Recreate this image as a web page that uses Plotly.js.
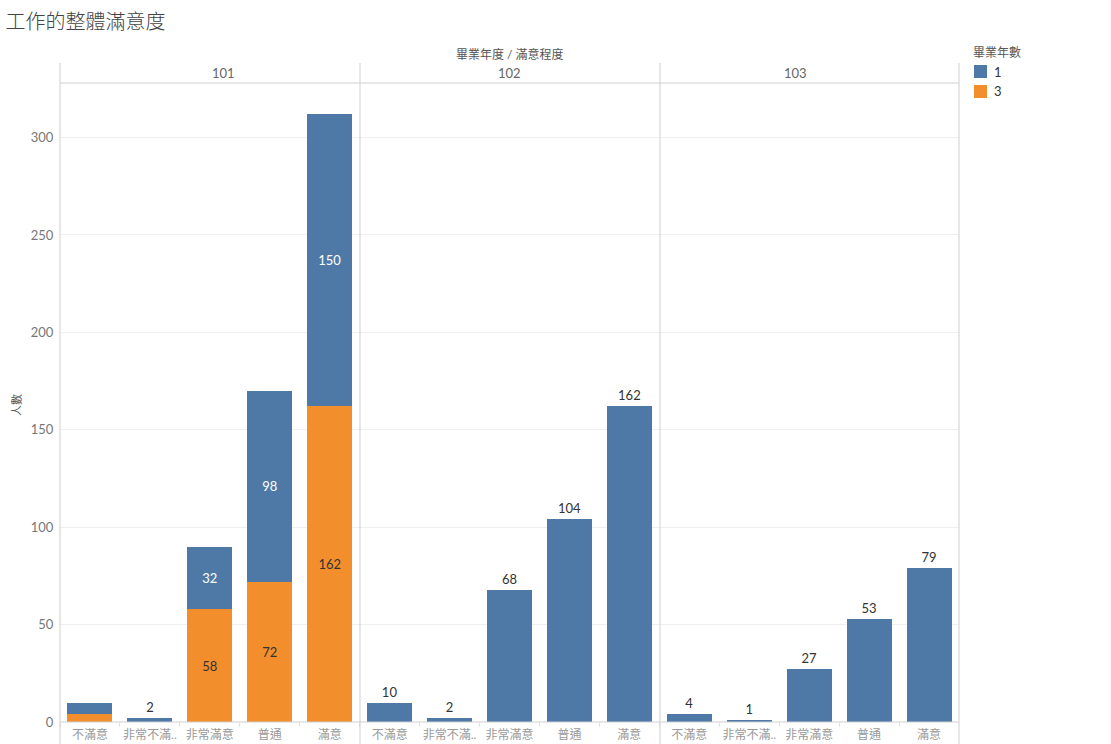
<!DOCTYPE html>
<html>
<head>
<meta charset="utf-8">
<script src="https://cdn.plot.ly/plotly-3.0.1.min.js"></script>
<style>
  body { margin: 0; background: #fff; }
  #chart { width: 1111px; height: 744px; }
</style>
</head>
<body>
<div id="chart"></div>
<script>
// satisfaction categories and how the axis shows them
const categories = ['不滿意', '非常不滿意', '非常滿意', '普通', '滿意'];
const tickLabels = ['不滿意', '非常不滿..', '非常滿意', '普通', '滿意'];
const years = ['101', '102', '103'];

// 畢業年數 = 1
const oneYear101 = [6, 2, 32, 98, 150];
const oneYear102 = [10, 2, 68, 104, 162];
const oneYear103 = [4, 1, 27, 53, 79];
// 畢業年數 = 3 (only 101 has it)
const threeYear101 = [4, 0, 58, 72, 162];

// legend entries
const legendNames = ['1', '3'];

const BLUE = '#4e79a7';
const ORANGE = '#f28e2b';
const FONT = "Lato, 'Noto Sans CJK TC', sans-serif";

const orange101 = {
  x: categories, y: threeYear101, type: 'bar', name: '3',
  xaxis: 'x', yaxis: 'y',
  marker: { color: ORANGE },
  text: ['', '', '58', '72', '162'],
  textposition: 'inside', insidetextanchor: 'middle',
  insidetextfont: { color: '#333', size: 13, family: FONT },
  hoverinfo: 'x+y'
};

const blue101 = {
  x: categories, y: oneYear101, type: 'bar', name: '1',
  xaxis: 'x', yaxis: 'y',
  marker: { color: BLUE },
  text: ['', '2', '32', '98', '150'],
  textposition: ['none', 'outside', 'inside', 'inside', 'inside'],
  insidetextanchor: 'middle',
  insidetextfont: { color: '#fff', size: 13, family: FONT },
  outsidetextfont: { color: '#333', size: 13, family: FONT },
  cliponaxis: false,
  hoverinfo: 'x+y'
};

function plainPanel(values, ax) {
  return {
    x: categories, y: values, type: 'bar', name: '1',
    xaxis: ax, yaxis: 'y',
    marker: { color: BLUE },
    text: values.map(String),
    textposition: 'outside',
    outsidetextfont: { color: '#333', size: 13, family: FONT },
    cliponaxis: false, hoverinfo: 'x+y'
  };
}

const data = [orange101, blue101, plainPanel(oneYear102, 'x2'), plainPanel(oneYear103, 'x3')];

// plot area is 60..959 px wide, 83..722 px tall
const plotW = 899, plotH = 639;
const px = x => (x - 60) / plotW;
const py = y => (722 - y) / plotH;

function xAxis(i) {
  return {
    domain: [i / 3, (i + 1) / 3],
    type: 'category',
    tickvals: categories, ticktext: tickLabels, tickangle: 0,
    tickfont: { size: 12, color: '#999', family: FONT },
    ticks: 'outside', tickson: 'boundaries', ticklen: 4, tickcolor: '#e2e2e2',
    ticklabelstandoff: 4,
    showgrid: false, showline: false, zeroline: false,
    fixedrange: true, anchor: 'y', automargin: false
  };
}

const shapes = [];
// panel separators, running down through the label row
[60, 360, 660, 959].forEach(x => {
  shapes.push({ type: 'line', xref: 'paper', yref: 'paper',
    x0: px(x), x1: px(x), y0: py(744), y1: py(63),
    line: { color: '#cfcfcf', width: 1 } });
});
// header strip bottom and the base line
shapes.push({ type: 'line', xref: 'paper', yref: 'paper', x0: 0, x1: 1, y0: 1, y1: 1,
  line: { color: '#cfcfcf', width: 1 } });
shapes.push({ type: 'line', xref: 'paper', yref: 'paper', x0: 0, x1: 1, y0: 0, y1: 0,
  line: { color: '#cfcfcf', width: 1 } });

const annotations = [
  { text: '畢業年度 / 滿意程度', xref: 'paper', yref: 'paper', x: 0.5, y: py(54),
    yanchor: 'middle', showarrow: false, font: { size: 12, color: '#555', family: FONT } },
  { text: '人數', xref: 'paper', yref: 'paper', x: px(17), y: py(405), textangle: -90,
    xanchor: 'center', yanchor: 'middle',
    showarrow: false, font: { size: 11, color: '#555', family: FONT } },
  { text: '畢業年數', xref: 'paper', yref: 'paper', x: px(971), y: py(53),
    xanchor: 'left', yanchor: 'middle',
    showarrow: false, font: { size: 12, color: '#555', family: FONT } }
];
years.forEach((yr, i) => {
  annotations.push({ text: yr, xref: 'paper', yref: 'paper', x: (i + 0.5) / 3, y: py(73),
    yanchor: 'middle', showarrow: false, font: { size: 13, color: '#666', family: FONT } });
});

// hand-made legend so the swatches sit where the reference has them
[BLUE, ORANGE].forEach((c, i) => {
  const top = 65 + i * 20;
  shapes.push({ type: 'rect', xref: 'paper', yref: 'paper',
    x0: px(974), x1: px(987), y0: py(top + 13), y1: py(top),
    fillcolor: c, line: { width: 0 } });
  annotations.push({ text: legendNames[i], xref: 'paper', yref: 'paper',
    x: px(992), y: py(top + 6.5), xanchor: 'left', yanchor: 'middle',
    showarrow: false, font: { size: 13, color: '#333', family: FONT } });
});

const layout = {
  width: 1111, height: 744,
  margin: { l: 60, r: 152, t: 83, b: 22 },
  paper_bgcolor: '#fff', plot_bgcolor: '#fff',
  font: { family: FONT, color: '#555' },
  showlegend: false,
  title: { text: '工作的整體滿意度', x: 0.005, xanchor: 'left', y: 0.97, yanchor: 'middle',
    font: { size: 20, color: '#444', family: "'Noto Sans CJK TC', sans-serif", weight: 300 } },
  barmode: 'stack', bargap: 0.25,
  xaxis: xAxis(0),
  xaxis2: xAxis(1),
  xaxis3: xAxis(2),
  yaxis: {
    range: [0, 328], tickvals: [0, 50, 100, 150, 200, 250, 300],
    tickfont: { size: 13, color: '#777', family: FONT },
    ticks: 'outside', ticklen: 3, tickcolor: 'rgba(0,0,0,0)',
    gridcolor: '#efefef', zeroline: false, showline: false, fixedrange: true
  },
  shapes: shapes,
  annotations: annotations
};

Plotly.newPlot('chart', data, layout, { displayModeBar: false });
</script>
</body>
</html>
